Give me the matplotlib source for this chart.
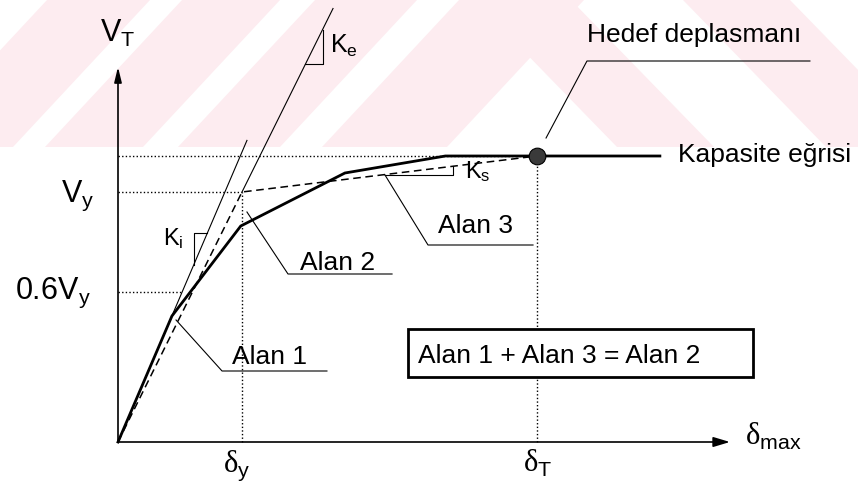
import matplotlib.pyplot as plt
from matplotlib.patches import Polygon, Rectangle

plt.rcParams['font.family'] = ['Liberation Sans', 'DejaVu Sans']
plt.rcParams['mathtext.fontset'] = 'custom'
plt.rcParams['mathtext.rm'] = 'Liberation Sans'
plt.rcParams['mathtext.it'] = 'Liberation Sans'

# displacement in units of delta_y, base shear in units of V_y
capacity_d = [0.0, 0.435, 0.99, 1.83, 2.64, 4.37]
capacity_v = [0.0, 0.504, 0.864, 1.076, 1.144, 1.144]
delta_y = 1.0
V_y = 1.0
delta_T = 3.379
V_top = 1.144
bilinear_d = [0.0, delta_y, delta_T]
bilinear_v = [0.0, V_y, V_top]
k_i = 1.16                 # initial stiffness
k_e = V_y / delta_y        # effective stiffness
v_06 = 0.6 * V_y

x_end = 4.935
y_end = 1.5

ink = 'black'
thin = 0.8

fig = plt.figure(figsize=(8.58, 4.86), dpi=100)

# light diagonal band pattern along the top edge
bg = fig.add_axes([0, 0, 1, 1], zorder=0)
bg.set_xlim(0, 858)
bg.set_ylim(486, 0)
bg.axis('off')
pink = '#fdecf0'
for b0, b1 in [(-90, 13), (45, 143), (178, 280), (322, 447)]:
    bg.add_patch(Polygon([(b0, 147), (b1, 147), (b1 + 137, 0), (b0 + 137, 0)],
                         closed=True, fc=pink, ec='none'))
for t0, t1 in [(474, 571), (683, 790)]:
    bg.add_patch(Polygon([(t0, 0), (t1, 0), (t1 + 143, 147), (t0 + 143, 147)],
                         closed=True, fc=pink, ec='none'))

ax = fig.add_axes([0, 0, 1, 1], zorder=1)
ax.patch.set_alpha(0)
ax.set_xlim(-118 / 124, 740 / 124)
ax.set_ylim(-44 / 250, 442 / 250)
ax.axis('off')

# axes with arrow heads
ax.annotate('', xy=(x_end, 0), xytext=(0, 0),
            arrowprops=dict(arrowstyle='-|>,head_length=1.0,head_width=0.3',
                            lw=1.2, color=ink, shrinkA=0, shrinkB=0, mutation_scale=10))
ax.annotate('', xy=(0, y_end), xytext=(0, 0),
            arrowprops=dict(arrowstyle='-|>,head_length=0.9,head_width=0.22',
                            lw=1.2, color=ink, shrinkA=0, shrinkB=0, mutation_scale=10))

# dotted reference lines
dot = (0, (1, 1.6))
ax.plot([0, delta_T], [V_top, V_top], color=ink, lw=1.0, ls=dot)
ax.plot([0, delta_y], [V_y, V_y], color=ink, lw=1.0, ls=dot)
ax.plot([0, v_06 / k_i], [v_06, v_06], color=ink, lw=1.0, ls=dot)
ax.plot([delta_y, delta_y], [0, V_y], color=ink, lw=1.0, ls=dot)
ax.plot([delta_T, delta_T], [0, V_top], color=ink, lw=1.0, ls=dot)

# stiffness lines
ax.plot([0, 1.04], [0, 1.04 * k_i], color=ink, lw=thin)
ax.plot([delta_y, 1.734], [V_y, 1.734 * k_e], color=ink, lw=thin)

# slope triangles
ax.plot([0.61, 0.61, 0.72], [0.61 * k_i, 0.72 * k_i, 0.72 * k_i], color=ink, lw=thin)
ax.plot([1.51, 1.65, 1.65], [1.51 * k_e, 1.51 * k_e, 1.65 * k_e], color=ink, lw=thin)
k_s = (V_top - V_y) / (delta_T - delta_y)
ax.plot([2.153, 2.7, 2.7], [V_y + k_s * 1.153, V_y + k_s * 1.153, V_y + k_s * 1.7],
        color=ink, lw=thin)

# idealized bilinear curve and capacity curve
ax.plot(bilinear_d, bilinear_v, color=ink, lw=1.1, ls=(0, (5, 3)))
ax.plot(capacity_d, capacity_v, color=ink, lw=2.0, solid_joinstyle='miter')
ax.plot([delta_T], [V_top], 'o', ms=12, color='#3a3a3a', mec=ink, mew=0.8, zorder=5)

# leader lines
leaders = {
    'Alan 1': [(0.468, 0.488), (0.839, 0.284), (1.685, 0.284)],
    'Alan 2': [(1.04, 0.92), (1.371, 0.672), (2.21, 0.672)],
    'Alan 3': [(2.153, 1.068), (2.5, 0.788), (3.347, 0.788)],
    'hedef': [(3.452, 1.216), (3.782, 1.524), (5.58, 1.524)],
}
for pts in leaders.values():
    ax.plot([p[0] for p in pts], [p[1] for p in pts], color=ink, lw=thin)

fs = 19
ax.text(0.919, 0.312, 'Alan 1', fontsize=fs, va='baseline')
ax.text(1.468, 0.688, 'Alan 2', fontsize=fs, va='baseline')
ax.text(2.58, 0.836, 'Alan 3', fontsize=fs, va='baseline')
ax.text(3.782, 1.601, 'Hedef deplasmanı', fontsize=fs, va='baseline')
ax.text(4.516, 1.12, 'Kapasite eğrisi', fontsize=fs, va='baseline')

ax.text(1.71, 1.556, r'K$_{\mathrm{e}}$', fontsize=18, va='baseline')
ax.text(0.363, 0.788, r'K$_{\mathrm{i}}$', fontsize=17, va='baseline')
ax.text(2.798, 1.056, r'K$_{\mathrm{s}}$', fontsize=17, va='baseline')

# box with the equal-area condition
ax.add_patch(Rectangle((2.339, 0.26), 2.782, 0.192, fc='white', ec=ink, lw=2.0, zorder=4))
ax.text(2.419, 0.316, 'Alan 1 + Alan 3 = Alan 2', fontsize=fs, va='baseline', zorder=6)

# axis labels
lab = 22
ax.text(0.0, 1.6, r'V$_{\mathrm{T}}$', fontsize=lab, ha='center', va='baseline')
ax.text(-0.194, 0.96, r'V$_{\mathrm{y}}$', fontsize=lab, ha='right', va='baseline')
ax.text(-0.218, v_06 - 0.028, r'0.6V$_{\mathrm{y}}$', fontsize=lab, ha='right', va='baseline')
ax.text(0.96, -0.12, r'δ$_{\mathrm{y}}$', fontsize=lab, ha='center', va='baseline',
        family=['Liberation Serif', 'DejaVu Serif'])
ax.text(3.387, -0.12, r'δ$_{\mathrm{T}}$', fontsize=lab, ha='center', va='baseline',
        family=['Liberation Serif', 'DejaVu Serif'])
ax.text(5.056, -0.012, r'δ$_{\mathrm{max}}$', fontsize=lab, ha='left', va='baseline',
        family=['Liberation Serif', 'DejaVu Serif'])

fig.savefig('out.png', dpi=100)
